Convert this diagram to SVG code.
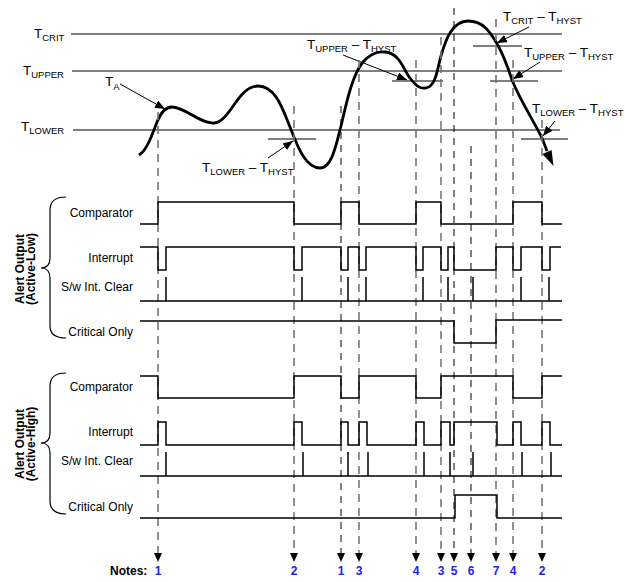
<svg xmlns="http://www.w3.org/2000/svg" width="625" height="582" viewBox="0 0 625 582">
<style>
text{font-family:"Liberation Sans",Arial,sans-serif;fill:#000}
.lbl{font-size:13.5px}
.sub{font-size:9.5px}
.sig{font-size:12px}
.bold{font-size:12px;font-weight:bold}
.num{font-size:12px;font-weight:bold;fill:#2222ee}
.th{stroke:#000;stroke-width:1.2;fill:none}
.wave{stroke:#000;stroke-width:1.5;fill:none}
.brace{stroke:#000;stroke-width:1.2;fill:none}
.dg{stroke:#777;stroke-width:1.6;stroke-dasharray:8 6;fill:none}
.dk{stroke:#000;stroke-width:1;stroke-dasharray:7 6;fill:none}
.ptr{stroke:#000;stroke-width:1;fill:none}
</style>
<defs>
<marker id="ah" markerWidth="9" markerHeight="8" refX="0" refY="4" orient="auto" markerUnits="userSpaceOnUse">
<path d="M0,0 L9,4 L0,8 z" fill="#000"/>
</marker>
<marker id="pa" markerWidth="10" markerHeight="8" refX="10" refY="4" orient="auto" markerUnits="userSpaceOnUse">
<path d="M0,0 L10,4 L0,8 z" fill="#000"/>
</marker>
</defs>

<g id="thresholds">
<line class="th" x1="71" y1="34" x2="562" y2="34"/>
<line class="th" x1="72" y1="71" x2="562" y2="71"/>
<line class="th" x1="73" y1="130" x2="560" y2="130"/>
<text class="lbl" x="34" y="38">T<tspan class="sub" dy="3">CRIT</tspan></text>
<text class="lbl" x="23" y="75">T<tspan class="sub" dy="3">UPPER</tspan></text>
<text class="lbl" x="21" y="131">T<tspan class="sub" dy="3">LOWER</tspan></text>
</g>

<g id="hysteresis">
<line class="th" x1="268" y1="139" x2="316" y2="139"/>
<line class="th" x1="392" y1="81" x2="443" y2="81"/>
<line class="th" x1="473" y1="46" x2="522" y2="46"/>
<line class="th" x1="490" y1="81" x2="538" y2="81"/>
<line class="th" x1="521" y1="139" x2="568" y2="139"/>
<text class="lbl" x="202" y="172">T<tspan class="sub" dy="3">LOWER</tspan><tspan dy="-3"> – T</tspan><tspan class="sub" dy="3">HYST</tspan></text>
<text class="lbl" x="307" y="49">T<tspan class="sub" dy="3">UPPER</tspan><tspan dy="-3"> – T</tspan><tspan class="sub" dy="3">HYST</tspan></text>
<text class="lbl" x="503" y="21">T<tspan class="sub" dy="3">CRIT</tspan><tspan dy="-3"> – T</tspan><tspan class="sub" dy="3">HYST</tspan></text>
<text class="lbl" x="524" y="57">T<tspan class="sub" dy="3">UPPER</tspan><tspan dy="-3"> – T</tspan><tspan class="sub" dy="3">HYST</tspan></text>
<text class="lbl" x="532" y="113">T<tspan class="sub" dy="3">LOWER</tspan><tspan dy="-3"> – T</tspan><tspan class="sub" dy="3">HYST</tspan></text>
<text class="lbl" x="105" y="86">T<tspan class="sub" dy="4">A</tspan></text>
</g>

<g id="temperature-curve">
<path d="M139,155 C147,150 152,135 157,122 C161,112 166,107 172,107 C185,107 200,124 214,123 C230,122 238,86 258,86 C276,86 283,110 290,127 C297,145 305,168 320,168 C332,168 336,145 341,126 C346,105 352,75 363,62 C370,54 377,51 385,52 C400,53 404,71 410,78 C416,86 420,89 426,88 C436,86 437,70 441,56 C446,38 453,21 468,21 C483,21 490,32 496,42 C504,55 508,68 512,80 C520,100 532,118 542,138 L547,151" fill="none" stroke="#000" stroke-width="2.8"/>
<polygon points="553.5,166 551.6,150 542.4,154" fill="#000"/>
</g>

<g id="pointers">
<line class="ptr" x1="120" y1="84" x2="165" y2="109" marker-end="url(#pa)"/>
<line class="ptr" x1="268" y1="158" x2="293" y2="141" marker-end="url(#pa)"/>
<line class="ptr" x1="343" y1="55" x2="407" y2="80" marker-end="url(#pa)"/>
<line class="ptr" x1="529" y1="27" x2="497" y2="43" marker-end="url(#pa)"/>
<line class="ptr" x1="540" y1="62" x2="513" y2="79" marker-end="url(#pa)"/>
<line class="ptr" x1="555" y1="121" x2="543" y2="136" marker-end="url(#pa)"/>
</g>

<g id="connectors">
<line class="dg" x1="158" y1="112" x2="158" y2="553" marker-end="url(#ah)"/>
<line class="dg" x1="294" y1="106" x2="294" y2="553" marker-end="url(#ah)"/>
<line class="dk" x1="341" y1="106" x2="341" y2="553" marker-end="url(#ah)"/>
<line class="dg" x1="359" y1="60" x2="359" y2="553" marker-end="url(#ah)"/>
<line class="dg" x1="416" y1="60" x2="416" y2="553" marker-end="url(#ah)"/>
<line class="dg" x1="441" y1="37" x2="441" y2="553" marker-end="url(#ah)"/>
<line class="dk" x1="454" y1="8" x2="454" y2="553" marker-end="url(#ah)"/>
<line class="dk" x1="471" y1="146" x2="471" y2="553" marker-end="url(#ah)"/>
<line class="dg" x1="496" y1="19" x2="496" y2="553" marker-end="url(#ah)"/>
<line class="dg" x1="513" y1="60" x2="513" y2="553" marker-end="url(#ah)"/>
<line class="dg" x1="542" y1="120" x2="542" y2="553" marker-end="url(#ah)"/>
</g>

<g id="active-low">
<path class="brace" d="M66,197 Q50,197 50,210 L50,258 Q50,268 41,268 Q50,268 50,278 L50,326 Q50,338 66,338"/>
<text class="bold" transform="translate(23.5,269) rotate(-90)" text-anchor="middle">Alert Output</text>
<text class="bold" transform="translate(34.5,269) rotate(-90)" text-anchor="middle">(Active-Low)</text>
<text class="sig" x="133" y="217" text-anchor="end">Comparator</text>
<text class="sig" x="133" y="262" text-anchor="end">Interrupt</text>
<text class="sig" x="133" y="291" text-anchor="end">S/w Int. Clear</text>
<text class="sig" x="133" y="336" text-anchor="end">Critical Only</text>
<path class="wave" d="M140,224 H158 V202 H294 V224 H341 V202 H359 V224 H416 V202 H441 V224 H513 V202 H542 V224 H562"/>
<path class="wave" d="M140,247 H158 V270 H166 V247 H294 V270 H302 V247 H341 V270 H348 V247 H359 V270 H366 V247 H416 V270 H423 V247 H441 V270 H448 V247 H454 V270 H496 V247 H513 V270 H521 V247 H542 V270 H550 V247 H561"/>
<path class="wave" d="M140,301 H562 M166,301 V277 M302,301 V277 M348,301 V277 M366,301 V277 M423,301 V277 M448,301 V277 M473,301 V277 M521,301 V277 M549,301 V277"/>
<path class="wave" d="M140,321 H454 V343 H496 V320 H562"/>
</g>

<g id="active-high">
<path class="brace" d="M66,373 Q50,373 50,386 L50,433 Q50,443 41,443 Q50,443 50,453 L50,501 Q50,514 66,514"/>
<text class="bold" transform="translate(23.5,444) rotate(-90)" text-anchor="middle">Alert Output</text>
<text class="bold" transform="translate(34.5,444) rotate(-90)" text-anchor="middle">(Active-High)</text>
<text class="sig" x="133" y="391" text-anchor="end">Comparator</text>
<text class="sig" x="133" y="436" text-anchor="end">Interrupt</text>
<text class="sig" x="133" y="465" text-anchor="end">S/w Int. Clear</text>
<text class="sig" x="133" y="511" text-anchor="end">Critical Only</text>
<path class="wave" d="M140,376 H158 V398 H294 V376 H341 V398 H359 V376 H416 V398 H441 V376 H513 V398 H542 V376 H562"/>
<path class="wave" d="M140,445 H158 V422 H166 V445 H294 V422 H302 V445 H341 V422 H348 V445 H359 V422 H367 V445 H416 V422 H424 V445 H441 V422 H450 V445 H454 V422 H497 V445 H513 V422 H521 V445 H542 V422 H550 V445 H562"/>
<path class="wave" d="M140,476 H562 M166,476 V452 M303,476 V452 M348,476 V452 M368,476 V452 M424,476 V452 M450,476 V452 M473,476 V452 M522,476 V452 M551,476 V452"/>
<path class="wave" d="M140,518 H455 V495 H497 V518 H562"/>
</g>

<g id="notes">
<text class="bold" x="110" y="575">Notes:</text>
<text class="num" x="158" y="575" text-anchor="middle">1</text>
<text class="num" x="294" y="575" text-anchor="middle">2</text>
<text class="num" x="341" y="575" text-anchor="middle">1</text>
<text class="num" x="359" y="575" text-anchor="middle">3</text>
<text class="num" x="416" y="575" text-anchor="middle">4</text>
<text class="num" x="441" y="575" text-anchor="middle">3</text>
<text class="num" x="454" y="575" text-anchor="middle">5</text>
<text class="num" x="471" y="575" text-anchor="middle">6</text>
<text class="num" x="496" y="575" text-anchor="middle">7</text>
<text class="num" x="513" y="575" text-anchor="middle">4</text>
<text class="num" x="542" y="575" text-anchor="middle">2</text>
</g>
</svg>
